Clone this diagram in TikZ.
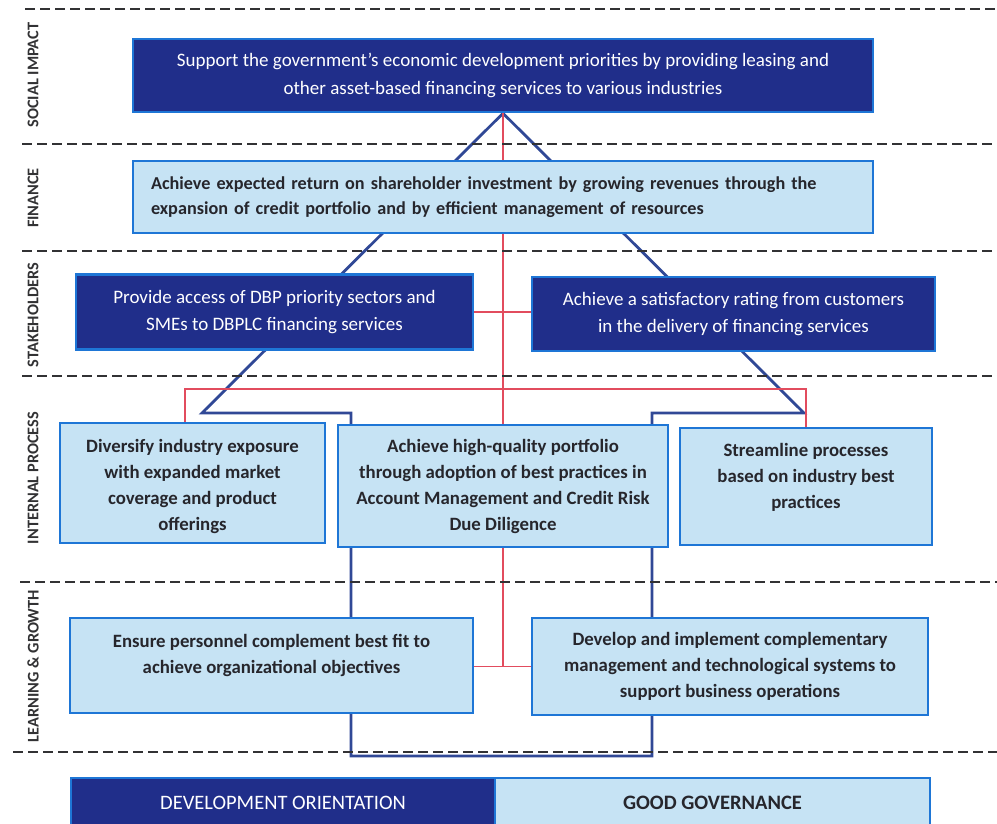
\documentclass[tikz,border=0pt]{standalone}
\usepackage{fontspec}
\setmainfont{Carlito}
\usetikzlibrary{backgrounds,calc}
\definecolor{navy}{RGB}{32,46,138}
\definecolor{edgeblue}{RGB}{30,118,214}
\definecolor{lightfill}{RGB}{198,227,244}
\definecolor{inkdark}{RGB}{38,38,44}
\definecolor{linkblue}{RGB}{48,72,150}
\definecolor{linkred}{RGB}{226,76,94}
\definecolor{dashgray}{RGB}{50,50,52}
\begin{document}
\begin{tikzpicture}[x=1pt,y=-1pt,
  darkbox/.style={draw=edgeblue, line width=2.6pt, fill=navy, text=white, align=center, inner sep=0pt,
    font=\fontsize{19}{27.5}\selectfont},
  lightbox/.style={draw=edgeblue, line width=2.6pt, fill=lightfill, text=inkdark, align=center, inner sep=0pt,
    font=\bfseries\fontsize{18.8}{26}\selectfont},
  plaintext/.style={text=inkdark, align=center, inner sep=0pt, font=\bfseries\fontsize{18.8}{26}\selectfont},
  sect/.style={rotate=90, text=dashgray, inner sep=0pt, font=\bfseries\fontsize{16.3}{16.3}\selectfont},
  sepline/.style={dashgray, line width=2.4pt, dash pattern=on 10pt off 5pt},
  blueline/.style={linkblue, line width=2.8pt, line join=miter},
  redline/.style={linkred, line width=1.6pt}
]
\useasboundingbox (0,0) rectangle (997,824);

% separators
\draw[sepline] (25,9) -- (997,9);
\draw[sepline] (22,144) -- (997,144);
\draw[sepline] (22,251) -- (997,251);
\draw[sepline] (22,376) -- (997,376);
\draw[sepline] (20,582) -- (997,582);
\draw[sepline] (13,752) -- (997,752);

% section labels
\node[sect] (lsoc) at (33,75) {SOCIAL IMPACT};
\node[sect] (lfin) at (33,198) {FINANCE};
\node[sect] (lsta) at (33,315) {STAKEHOLDERS};
\node[sect] (lint) at (33,478) {INTERNAL PROCESS};
\node[sect] (llg) at (33,666) {LEARNING \& GROWTH};

% boxes
\node[darkbox, minimum width=740pt, minimum height=73pt] (social) at (503,75.5)
  {Support the government's economic development priorities by providing leasing and\\other asset-based financing services to various industries};
\node[lightbox, minimum width=740pt, minimum height=72pt, align=left, text width=704pt,
  font=\bfseries\fontsize{18.2}{24.5}\selectfont] (finance) at (503,197)
  {Achieve expected return on shareholder investment by growing revenues through the\\expansion of credit portfolio and by efficient management of resources};
\node[darkbox, minimum width=397pt, minimum height=75pt] (stakeL) at (274.5,312)
  {Provide access of DBP priority sectors and\\SMEs to DBPLC financing services};
\node[darkbox, minimum width=403pt, minimum height=74pt] (stakeR) at (733.5,314)
  {Achieve a satisfactory rating from customers\\in the delivery of financing services};
\node[lightbox, minimum width=265pt, minimum height=120pt] (intL) at (192.5,483) {};
\node[plaintext] (intLt) at (192.5,486) {Diversify industry exposure\\with expanded market\\coverage and product\\offerings};
\node[lightbox, minimum width=330pt, minimum height=122pt] (intM) at (503,486)
  {Achieve high-quality portfolio\\through adoption of best practices in\\Account Management and Credit Risk\\Due Diligence};
\node[lightbox, minimum width=252pt, minimum height=117pt] (intR) at (806,486.5) {};
\node[plaintext] (intRt) at (806,477) {Streamline processes\\based on industry best\\practices};
\node[lightbox, minimum width=403pt, minimum height=95pt] (lgL) at (271.5,665.5) {};
\node[plaintext] (lgLt) at (271.5,655) {Ensure personnel complement best fit to\\achieve organizational objectives};
\node[lightbox, minimum width=396pt, minimum height=97pt] (lgR) at (730,666.5)
  {Develop and implement complementary\\management and technological systems to\\support business operations};
\node[darkbox, minimum width=424pt, minimum height=50pt, font=\fontsize{20.5}{24}\selectfont] (devo) at (283,803)
  {DEVELOPMENT ORIENTATION};
\node[lightbox, minimum width=435pt, minimum height=50pt, font=\bfseries\fontsize{20.5}{24}\selectfont] (gov) at (712.5,803)
  {GOOD GOVERNANCE};

% connectors behind the boxes
\coordinate (tl) at (202,413);
\coordinate (tr) at (804,413);
\coordinate (bl) at (351,413);
\coordinate (br) at (652,413);
\coordinate (fl) at (351,756);
\coordinate (fr) at (652,756);
\coordinate (rl) at (185,389);
\coordinate (rr) at (806,389);
\begin{pgfonlayer}{background}
  \draw[blueline] (social.south) -- (tl) -- (bl) -- (fl) -- (fr) -- (br) -- (tr) -- cycle;
  \draw[redline] (social.south) -- (social.south |- lgR.west);
  \draw[redline] (stakeL.east) -- (stakeL.east -| stakeR.west);
  \draw[redline] (rl |- intL.north) -- (rl) -- (rr) -- (rr |- intR.north);
  \draw[redline] (lgL.east |- lgR.west) -- (lgR.west);
\end{pgfonlayer}
\end{tikzpicture}
\end{document}
